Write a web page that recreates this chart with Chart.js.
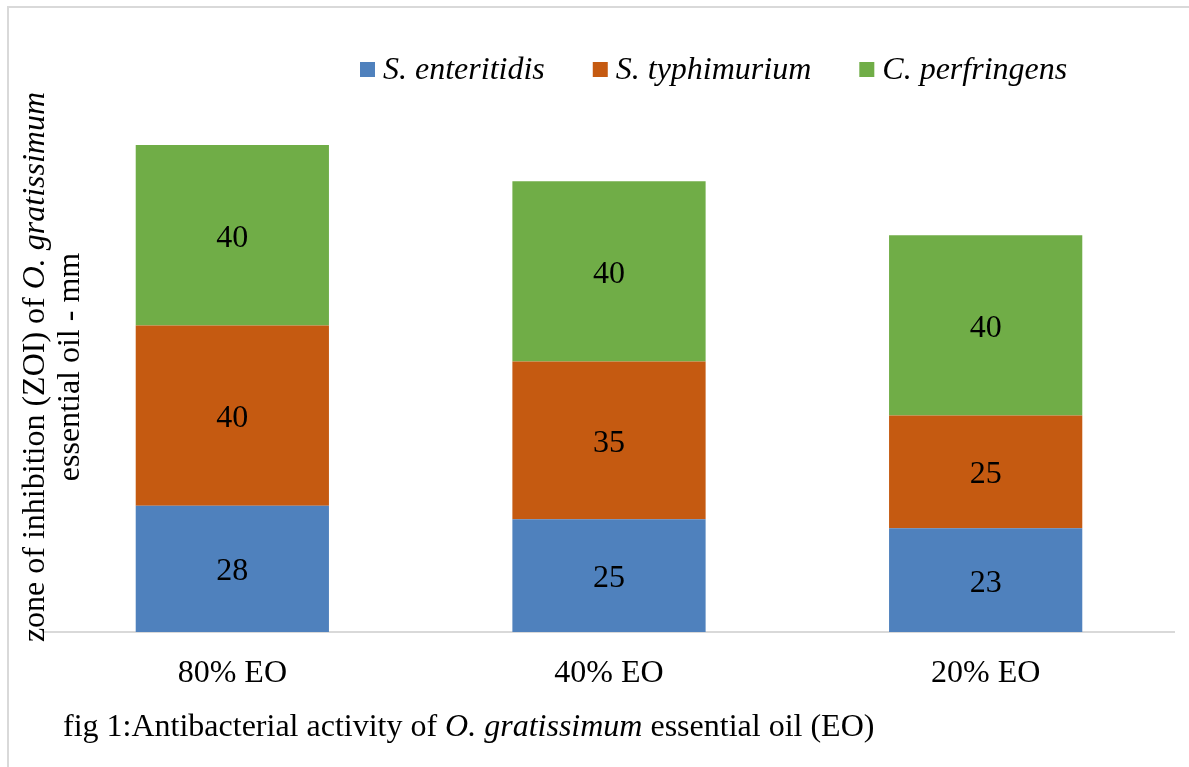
<!DOCTYPE html>
<html>
<head>
<meta charset="utf-8">
<style>
  html, body { margin: 0; padding: 0; background: #fff; }
  #wrap { width: 1189px; height: 767px; position: relative; }
</style>
<script src="https://cdn.jsdelivr.net/npm/chart.js@4.4.0/dist/chart.umd.min.js"></script>
</head>
<body>
<div id="wrap"><canvas id="zoiChart" width="1189" height="767"></canvas></div>
<script>
// values
let categories = ['80% EO', '40% EO', '20% EO'];
let enteritidis = [28, 25, 23];
let typhimurium = [40, 35, 25];
let perfringens = [40, 40, 40];
let seriesNames = ['S. enteritidis', 'S. typhimurium', 'C. perfringens'];

const SERIF = '"Liberation Serif", "Times New Roman", serif';
const FS = 32;

// draws a line made of [text, italic] pieces
function drawMixed(ctx, parts, x, y, size, align) {
    let widths = parts.map(p => {
        ctx.font = (p[1] ? 'italic ' : '') + size + 'px ' + SERIF;
        return ctx.measureText(p[0]).width;
    });
    let total = widths.reduce((a, b) => a + b, 0);
    let cx = align === 'left' ? x : x - total / 2;
    parts.forEach((p, i) => {
        ctx.font = (p[1] ? 'italic ' : '') + size + 'px ' + SERIF;
        ctx.fillText(p[0], cx, y);
        cx += widths[i];
    });
}

const extras = {
    id: 'extras',
    afterDraw(chart) {
        let ctx = chart.ctx;
        ctx.save();
        // frame
        ctx.strokeStyle = '#d9d9d9';
        ctx.lineWidth = 2;
        ctx.strokeRect(8, 7, 1200, 800);

        ctx.fillStyle = '#000';
        ctx.textBaseline = 'middle';

        // value labels in each segment
        chart.data.datasets.forEach((ds, i) => {
            chart.getDatasetMeta(i).data.forEach((bar, j) => {
                ctx.font = FS + 'px ' + SERIF;
                ctx.textAlign = 'center';
                ctx.fillText(String(ds.data[j]), bar.x, (bar.y + bar.base) / 2 + 3);
            });
        });

        // legend
        ctx.textAlign = 'left';
        let lx = 360;
        chart.data.datasets.forEach(ds => {
            ctx.fillStyle = ds.backgroundColor;
            ctx.fillRect(lx, 62, 15, 15);
            ctx.fillStyle = '#000';
            ctx.font = 'italic ' + FS + 'px ' + SERIF;
            ctx.fillText(ds.label, lx + 23, 71);
            lx += 23 + ctx.measureText(ds.label).width + 48;
        });

        // y axis title, two lines
        ctx.save();
        ctx.translate(0, 367);
        ctx.rotate(-Math.PI / 2);
        ctx.textBaseline = 'alphabetic';
        drawMixed(ctx, [['zone of inhibition (ZOI) of ', false], ['O. gratissimum', true]], 0, 44, FS, 'center');
        drawMixed(ctx, [['essential oil - mm', false]], 0, 79, FS, 'center');
        ctx.restore();

        // caption
        ctx.textBaseline = 'alphabetic';
        drawMixed(ctx, [['fig 1:Antibacterial activity of ', false], ['O. gratissimum', true], [' essential oil (EO)', false]], 63, 736, FS, 'left');
        ctx.restore();
    }
};

let ctx = document.getElementById('zoiChart').getContext('2d');
new Chart(ctx, {
    type: 'bar',
    data: {
        labels: categories,
        datasets: [
            { label: seriesNames[0], data: enteritidis, backgroundColor: '#4f81bd' },
            { label: seriesNames[1], data: typhimurium, backgroundColor: '#c55a11' },
            { label: seriesNames[2], data: perfringens, backgroundColor: '#70ad47' }
        ]
    },
    options: {
        responsive: false,
        animation: false,
        devicePixelRatio: 1,
        layout: { padding: { left: 44, right: 15, top: 91, bottom: 0 } },
        datasets: { bar: { categoryPercentage: 1, barPercentage: 0.513, borderWidth: 0 } },
        plugins: { legend: { display: false }, tooltip: { enabled: false } },
        scales: {
            x: {
                stacked: true,
                grid: { display: false, drawTicks: false },
                border: { color: '#d9d9d9', width: 2 },
                ticks: { color: '#000', font: { family: SERIF, size: FS }, padding: 22 },
                afterFit: s => { s.height = 135; }
            },
            y: {
                stacked: true,
                display: false,
                min: 0,
                max: 120
            }
        }
    },
    plugins: [extras]
});
</script>
</body>
</html>
